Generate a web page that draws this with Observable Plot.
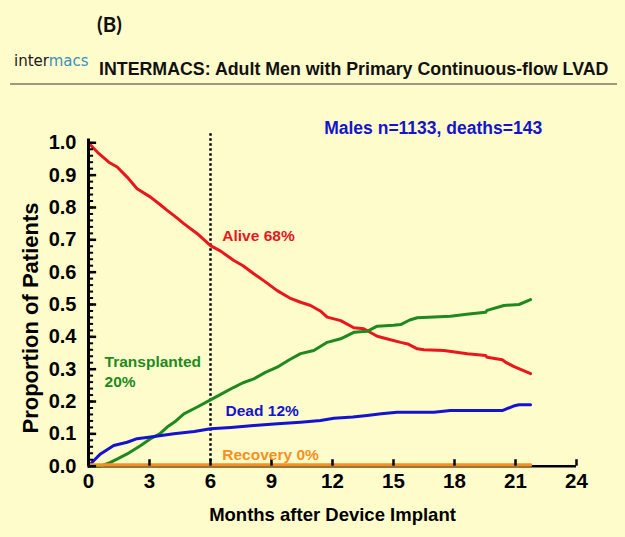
<!DOCTYPE html>
<html>
<head>
<meta charset="utf-8">
<script src="https://cdn.jsdelivr.net/npm/d3@7"></script>
<script src="https://cdn.jsdelivr.net/npm/@observablehq/plot@0.6"></script>
<style>
  html, body { margin: 0; padding: 0; background: #FFFCCB; }
  #wrap { position: relative; width: 625px; height: 537px; overflow: hidden; background: #FFFCCB; font-family: "Liberation Sans", Arial, sans-serif; }
  .abs { position: absolute; line-height: 1; white-space: nowrap; }
  #chart { position: absolute; left: 0; top: 100px; }
  #chart svg { overflow: visible; background: transparent; }
</style>
</head>
<body>
<div id="wrap">
  <div class="abs" style="left:97px;top:14px;font-family:Lato,'Open Sans',sans-serif;font-weight:700;font-size:20.5px;color:#111;">(B)</div>
  <div class="abs" style="left:14px;top:54px;font-family:'DejaVu Sans',sans-serif;font-size:15px;"><span style="color:#1a1a1a">inter</span><span style="color:#3d8fc0">macs</span></div>
  <div class="abs" style="left:99px;top:61px;font-weight:700;font-size:17.8px;color:#111;">INTERMACS: Adult Men with Primary Continuous-flow LVAD</div>
  <div class="abs" style="left:10px;top:83px;width:607px;height:2px;background:#9c9b82;"></div>
  <div id="chart"></div>
</div>
<script>
// Months after implant and proportions
const aliveMonths = [0, 0.5, 1.0, 1.41, 1.9, 2.39, 3.05, 3.5, 3.87, 4.3, 4.69, 5.35, 6.0, 6.5, 7.15, 7.6, 8.13, 8.7, 9.28, 9.9, 10.43, 10.92, 11.4, 11.74, 12.4, 13.05, 13.54, 14.2, 14.8, 15.35, 15.7, 16.17, 16.5, 17.48, 18.63, 19.53, 19.6, 20.35, 20.5, 20.93, 21.74];
const aliveValues = [1.0, 0.967, 0.94, 0.925, 0.894, 0.858, 0.832, 0.81, 0.791, 0.77, 0.75, 0.719, 0.682, 0.665, 0.636, 0.62, 0.595, 0.57, 0.543, 0.52, 0.507, 0.497, 0.48, 0.461, 0.45, 0.428, 0.425, 0.402, 0.392, 0.383, 0.378, 0.363, 0.36, 0.358, 0.348, 0.342, 0.337, 0.329, 0.322, 0.308, 0.286];

const txMonths = [0, 0.6, 1.08, 1.5, 1.9, 2.57, 3.05, 3.5, 3.87, 4.3, 4.69, 5.35, 6.0, 6.5, 7.15, 7.6, 8.13, 8.7, 9.28, 9.9, 10.43, 11.08, 11.74, 12.4, 13.05, 13.7, 14.2, 15.0, 15.35, 15.8, 16.17, 17.8, 18.6, 19.53, 19.6, 20.43, 21.17, 21.74];
const txValues = [0, 0, 0.012, 0.025, 0.038, 0.064, 0.085, 0.1, 0.121, 0.14, 0.162, 0.183, 0.205, 0.222, 0.244, 0.258, 0.27, 0.29, 0.306, 0.33, 0.348, 0.358, 0.383, 0.394, 0.414, 0.417, 0.433, 0.436, 0.438, 0.452, 0.459, 0.464, 0.47, 0.476, 0.482, 0.497, 0.5, 0.515];

const deadMonths = [0, 0.3, 0.59, 1.24, 1.9, 2.39, 3.05, 4.2, 5.2, 6.0, 7.0, 8.13, 9.3, 10.43, 11.41, 12.07, 13.0, 13.7, 14.4, 15.18, 16.99, 17.8, 20.35, 20.9, 21.17, 21.74];
const deadValues = [0, 0.02, 0.038, 0.064, 0.074, 0.085, 0.09, 0.1, 0.107, 0.116, 0.12, 0.126, 0.131, 0.136, 0.141, 0.148, 0.152, 0.157, 0.162, 0.167, 0.167, 0.172, 0.172, 0.186, 0.19, 0.19];

const recMonths = [0, 6, 12, 18, 21.74];
const recValues = [0.004, 0.004, 0.004, 0.004, 0.004];

const seriesNames = ["Alive", "Transplanted", "Dead", "Recovery"];
const seriesColors = ["#E8171D", "#1E8A1E", "#1414D0", "#F7901E"];

const xTicks = [0, 3, 6, 9, 12, 15, 18, 21, 24];
const yTicks = [0, 0.1, 0.2, 0.3, 0.4, 0.5, 0.6, 0.7, 0.8, 0.9, 1.0];
const yMinorTicks = d3.range(0, 51).map(i => i / 50);
const markerMonth = [6];

// inward tick lengths expressed in data units (months / proportion)
const yMinorTickLen = 0.25;
const yMajorTickLen = 0.4;
const xTickLen = 0.02;

const labelText = ["Alive 68%", "Transplanted", "20%", "Dead 12%", "Recovery 0%"];
const labelMonth = [6.58, 0.79, 0.79, 6.74, 6.58];
const labelValue = [0.696, 0.308, 0.244, 0.154, 0.02];
const labelSeries = [0, 1, 1, 2, 3];

const noteText = "Males n=1133, deaths=143";
const noteMonth = 16.95;
const noteValue = 1.028;

const xTitle = "Months after Device Implant";
const yTitle = "Proportion of Patients";

// Build tables
const mk = (ms, vs, s) => ms.map((m, i) => ({month: m, value: vs[i], series: s}));
const lines = [
  mk(aliveMonths, aliveValues, "Alive"),
  mk(txMonths, txValues, "Transplanted"),
  mk(deadMonths, deadValues, "Dead"),
  mk(recMonths, recValues, "Recovery")
];
const labels = labelText.map((t, i) => ({text: t, month: labelMonth[i], value: labelValue[i], color: seriesColors[labelSeries[i]]}));

const font = "'Liberation Sans', Arial, sans-serif";

const chart = Plot.plot({
  width: 625,
  height: 437,
  marginLeft: 88,
  marginRight: 49,
  marginTop: 42.3,
  marginBottom: 71.3,
  style: {background: "transparent", fontFamily: font, overflow: "visible"},
  x: {domain: [0, 24], axis: null},
  y: {domain: [0, 1], axis: null},
  marks: [
    // tick labels
    Plot.axisY({ticks: yTicks, tickSize: 0, tickPadding: 12, tickFormat: d3.format(".1f"), fontSize: 20, fontWeight: "bold", fill: "#000", label: null}),
    Plot.axisX({ticks: xTicks, tickSize: 0, tickPadding: 7, tickFormat: d => String(d), fontSize: 20.5, fontWeight: "bold", fill: "#000", label: null}),
    // x axis line
    Plot.ruleY([0], {x1: 0, x2: 24, stroke: "#000", strokeWidth: 2.5}),
    // dotted marker at 6 months
    Plot.ruleX(markerMonth, {y1: 0, y2: 1.03, stroke: "#000", strokeWidth: 2.5, strokeDasharray: "2.5,2.5"}),
    // curves
    ...lines.map((d, i) => Plot.line(d, {x: "month", y: "value", stroke: seriesColors[i], strokeWidth: i === 3 ? 3.5 : 3, strokeLinejoin: "round"})),
    // y axis line
    Plot.ruleX([0], {y1: 0, y2: 1.012, stroke: "#000", strokeWidth: 3}),
    // inward ticks
    Plot.ruleY(yMinorTicks, {y: d => d, x1: 0, x2: yMinorTickLen, stroke: "#000", strokeWidth: 2}),
    Plot.ruleY(yTicks, {y: d => d, x1: 0, x2: yMajorTickLen, stroke: "#000", strokeWidth: 2.5}),
    Plot.ruleX(xTicks, {x: d => d, y1: 0, y2: xTickLen, stroke: "#000", strokeWidth: 2.5}),
    // curve labels
    Plot.text(labels, {x: "month", y: "value", text: "text", fill: "color", textAnchor: "start", lineAnchor: "bottom", fontSize: 15.5, fontWeight: "bold"}),
    // note
    Plot.text([noteText], {x: noteMonth, y: noteValue, text: d => d, fill: "#1414CC", textAnchor: "middle", lineAnchor: "bottom", fontSize: 17.5, fontWeight: "bold"}),
    // axis titles
    Plot.text([xTitle], {frameAnchor: "bottom", text: d => d, dy: 54.3, lineAnchor: "bottom", fontSize: 18.5, fontWeight: "bold", fill: "#000"}),
    Plot.text([yTitle], {frameAnchor: "left", text: d => d, rotate: -90, dx: -51, dy: 13.5, textAnchor: "middle", lineAnchor: "bottom", fontSize: 22, fontWeight: "bold", fill: "#000"})
  ]
});
document.getElementById("chart").appendChild(chart);
</script>
</body>
</html>
